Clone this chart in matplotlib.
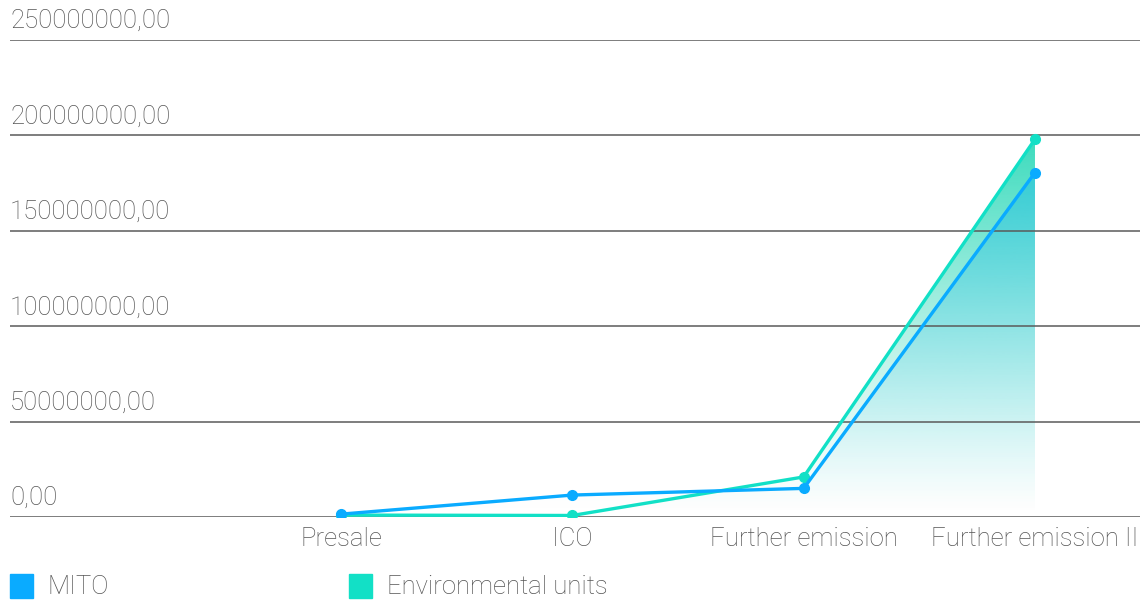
import numpy as np
import matplotlib.pyplot as plt
from matplotlib.patches import Polygon, Rectangle
from matplotlib.colors import to_rgb
import matplotlib.transforms as mtransforms

plt.rcParams['font.family'] = ['Roboto', 'DejaVu Sans']

stages = ["Presale", "ICO", "Further emission", "Further emission II"]
mito = [1500000, 11500000, 15000000, 180500000]
env_units = [1000000, 800000, 21000000, 198000000]
y_ticks = [0, 50000000, 100000000, 150000000, 200000000, 250000000]

blue = '#0aabff'
teal = '#12e0c6'
grey = '#555555'
fs = 18.5

fig = plt.figure(figsize=(11.45, 6.03), dpi=100)
ax = fig.add_axes([10 / 1145, 1 - 517 / 603, 1130 / 1145, 477 / 603])

x = np.arange(len(stages))
ax.set_xlim(-1.431, 3.454)
ax.set_ylim(0, 250000000)


def gradient_fill(xs, ys, color, top_alpha, z):
    verts = [(xs[0], 0)] + list(zip(xs, ys)) + [(xs[-1], 0)]
    poly = Polygon(verts, closed=True, facecolor='none', edgecolor='none')
    ax.add_patch(poly)
    r, g, b = to_rgb(color)
    grad = np.zeros((256, 1, 4))
    grad[:, 0, 0] = r
    grad[:, 0, 1] = g
    grad[:, 0, 2] = b
    grad[:, 0, 3] = np.linspace(0, top_alpha, 256) ** 1.3
    im = ax.imshow(grad, aspect='auto', origin='lower',
                   extent=[min(xs), max(xs), 0, max(ys)], zorder=z)
    im.set_clip_path(poly)


gradient_fill(x, env_units, '#1fd6b4', 0.9, 1)
gradient_fill(x, mito, '#18b8e8', 0.55, 1.1)

ax.plot(x, env_units, color=teal, lw=2.4, marker='o', ms=7, zorder=3)
ax.plot(x, mito, color=blue, lw=2.4, marker='o', ms=7, zorder=4)

trans = mtransforms.blended_transform_factory(ax.transAxes, ax.transData)
trans = trans + mtransforms.ScaledTranslation(0, 5 / 72, fig.dpi_scale_trans)
for t in y_ticks:
    ax.axhline(t, color='#5a5a5a', lw=1.1, zorder=2)
    ax.text(0, t, f"{t},00", transform=trans, ha='left', va='bottom',
            fontsize=fs, color=grey, fontweight='light')

ax.set_xticks(x)
ax.set_xticklabels(stages, fontsize=fs, color=grey, fontweight='light')
ax.tick_params(axis='x', length=0, pad=7)
ax.set_yticks([])
for s in ax.spines.values():
    s.set_visible(False)

# legend
fig.patches.append(Rectangle((10 / 1145, 1 - 598 / 603), 23 / 1145, 24 / 603,
                             transform=fig.transFigure, color=blue))
fig.text(48 / 1145, 1 - 587 / 603, "MITO", fontsize=fs, color=grey,
         va='center', ha='left', fontweight='light')
fig.patches.append(Rectangle((349 / 1145, 1 - 598 / 603), 23 / 1145, 24 / 603,
                             transform=fig.transFigure, color=teal))
fig.text(387 / 1145, 1 - 587 / 603, "Environmental units", fontsize=fs,
         color=grey, va='center', ha='left', fontweight='light')

fig.savefig('out.png', dpi=100)
